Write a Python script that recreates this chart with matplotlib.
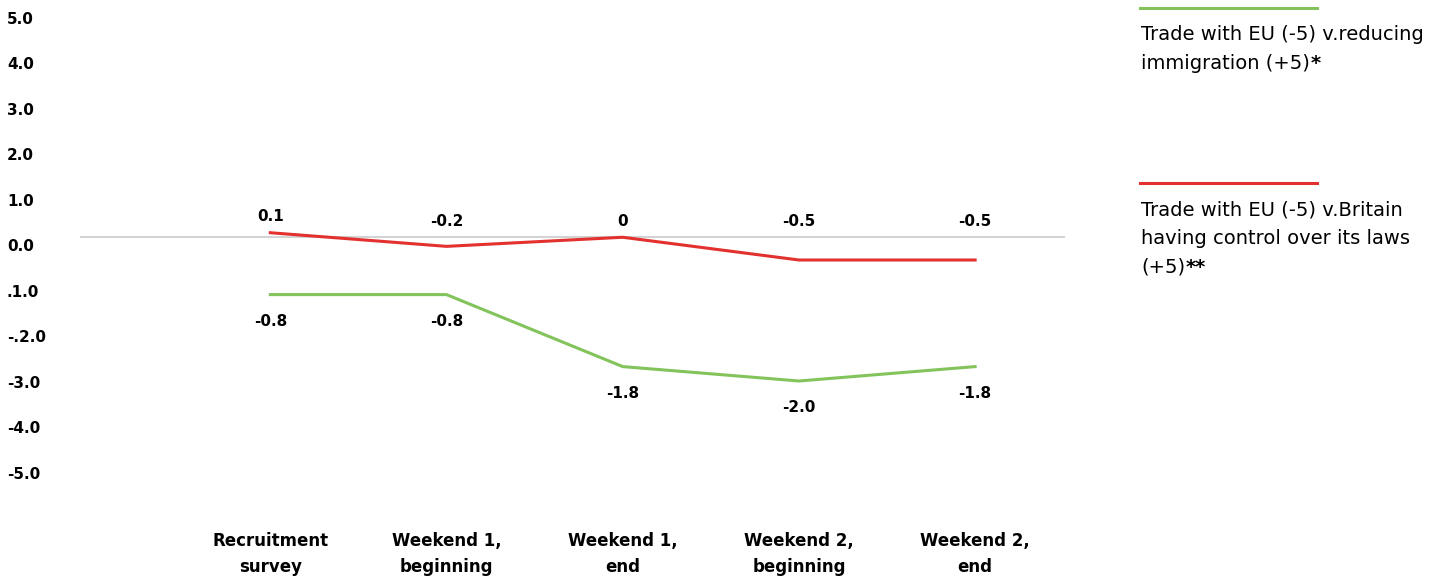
import matplotlib
matplotlib.use("Agg")
import matplotlib.pyplot as plt
import matplotlib.transforms as mtransforms
from matplotlib.lines import Line2D

plt.rcParams['font.family'] = ['DejaVu Sans']

# data
stages = ['Recruitment\nsurvey', 'Weekend 1,\nbeginning', 'Weekend 1,\nend',
          'Weekend 2,\nbeginning', 'Weekend 2,\nend']
immigration = [-0.8, -0.8, -1.8, -2.0, -1.8]
laws = [0.1, -0.2, 0.0, -0.5, -0.5]
immigration_labels = ['-0.8', '-0.8', '-1.8', '-2.0', '-1.8']
laws_labels = ['0.1', '-0.2', '0', '-0.5', '-0.5']
ytick_vals = [5, 4, 3, 2, 1, 0, -1, -2, -3, -4, -5]
ytick_text = ['5.0', '4.0', '3.0', '2.0', '1.0', '0.0', '.1.0', '-.2.0', '-3.0', '-4.0', '-5.0']
legend_green = ['Trade with EU (-5) v.reducing', 'immigration (+5)']
legend_red = ['Trade with EU (-5) v.Britain', 'having control over its laws', '(+5)']
stars = ['*', '**']

GREEN = '#82c35b'
RED = '#e2312f'

W, H = 1451, 577
fig = plt.figure(figsize=(W / 100, H / 100), dpi=100)

# axes spans pixel x 80..1065, y 10..500 (from top)
ax = fig.add_axes([80 / W, (H - 500) / H, (1065 - 80) / W, 490 / H])
ax2 = ax.twinx()
x = list(range(len(stages)))

ax.set_xlim(-1.08, 4.51)
ax.set_ylim(-263 / 45.5, 227 / 45.5)
ax2.set_ylim(-263 / 72.0, 227 / 72.0)

ax.axhline(0, color='#d3d3d3', lw=1.5, zorder=1)
ax.plot(x, laws, color=RED, lw=2.2, zorder=3)
ax2.plot(x, immigration, color=GREEN, lw=2.2, zorder=3)

for xi, v, s in zip(x, laws, laws_labels):
    ax.annotate(s, (xi, max(v, 0)), xytext=(0, 16), textcoords='offset pixels',
                ha='center', va='center', fontsize=11, fontweight='bold')
for xi, v, s in zip(x, immigration, immigration_labels):
    ax2.annotate(s, (xi, v), xytext=(0, -27), textcoords='offset pixels',
                 ha='center', va='center', fontsize=11, fontweight='bold')

ax.set_yticks(ytick_vals)
ax.set_yticklabels(ytick_text, fontsize=11, fontweight='bold', ha='left')
ax.tick_params(axis='y', length=0, pad=73 * 0.72)
shift = mtransforms.ScaledTranslation(0, -8 / 100, fig.dpi_scale_trans)
for lab in ax.get_yticklabels():
    lab.set_transform(lab.get_transform() + shift)

ax.set_xticks(x)
ax.set_xticklabels(stages, fontsize=12, fontweight='bold', linespacing=1.6)
ax.tick_params(axis='x', length=0, pad=23)

ax2.set_yticks([])
for a in (ax, ax2):
    for sp in a.spines.values():
        sp.set_visible(False)

# legend drawn at the right side
def fpx(px, py):
    return px / W, 1 - py / H

for color, lines, star, ly in [(GREEN, legend_green, stars[0], 8),
                               (RED, legend_red, stars[1], 183)]:
    x0, y0 = fpx(1140, ly)
    x1, _ = fpx(1317, ly)
    fig.add_artist(Line2D([x0, x1], [y0, y0], color=color, lw=2.2))
    last = None
    for i, line in enumerate(lines):
        tx, ty = fpx(1141, ly + 27 + 28.5 * i)
        last = fig.text(tx, ty, line, ha='left', va='center', fontsize=14)
    ax.annotate(star, xy=(1, 1), xycoords=last, xytext=(1, 0),
                textcoords='offset pixels', ha='left', va='top',
                fontsize=14, fontweight='bold', annotation_clip=False)

fig.savefig('out.png', dpi=100)
